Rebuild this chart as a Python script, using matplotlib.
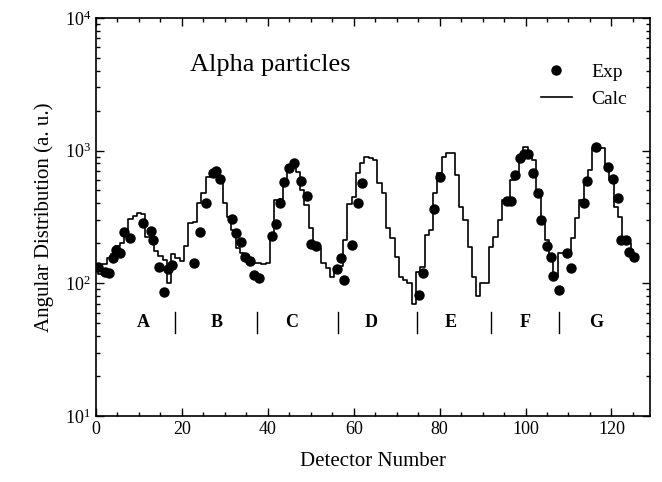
import matplotlib
matplotlib.use("Agg")
import matplotlib.pyplot as plt
import numpy as np

# measured points (detector number, counts)
exp_x = [0.5, 2, 3, 4, 4.7, 5.6, 6.6, 8, 10.9, 12.8, 13.3, 14.7, 15.9, 16.8, 17.8,
         22.8, 24.2, 25.6, 27.3, 27.9, 28.9, 31.6, 32.5, 33.7, 34.8, 35.9, 36.9, 38,
         40.9, 41.9, 42.9, 43.8, 45, 46, 47.8, 49.1, 50, 51.2,
         56, 57, 57.8, 59.6, 61, 62,
         75.1, 76.1, 78.8, 80.1,
         95.6, 96.7, 97.5, 98.7, 99.6, 100.5, 101.8, 103, 103.7, 104.9, 106, 106.4, 107.7,
         109.7, 110.7, 113.5, 114.3, 116.3, 119.2, 120.4, 121.5, 122.2, 123.3, 124, 125.2]
exp_y = [132, 122, 120, 154, 178, 168, 245, 220, 283, 249, 212, 132, 86, 128, 137,
         142, 245, 405, 682, 700, 608, 304, 240, 206, 159, 146, 116, 109,
         227, 279, 405, 577, 736, 812, 594, 455, 198, 191,
         127, 154, 106, 194, 405, 574,
         82, 119, 362, 630,
         420, 420, 650, 877, 950, 935, 682, 477, 300, 191, 157, 114, 89,
         168, 130, 405, 594, 1055, 757, 608, 441, 212, 212, 173, 158]

# calculated distribution, one value per detector 0..125
calc_y = [130, 118, 140, 155, 165, 190, 200, 250, 305, 320,
          340, 335, 225, 215, 175, 160, 150, 100, 165, 155,
          148, 190, 285, 290, 400, 477, 630, 640, 635, 625,
          400, 318, 251, 183, 170, 159, 155, 142, 142, 140,
          142, 223, 425, 430, 600, 757, 795, 694, 500, 390,
          262, 189, 185, 142, 130, 112, 128, 135, 212, 398,
          450, 675, 803, 900, 880, 850, 567, 477, 260, 218,
          159, 112, 106, 100, 70, 122, 133, 231, 251, 477,
          675, 900, 955, 955, 655, 378, 300, 189, 112, 80,
          100, 100, 189, 223, 300, 425, 430, 600, 694, 927,
          1070, 930, 850, 500, 300, 212, 159, 112, 170, 170,
          175, 218, 312, 425, 600, 714, 1040, 1040, 1040, 770,
          600, 378, 318, 200, 200, 178]
calc_x = np.arange(len(calc_y))

groups = ["A", "B", "C", "D", "E", "F", "G"]
group_x = [11, 28, 45.5, 64, 82.5, 100, 116.5]
separators = [18.4, 37.4, 56.3, 74.8, 92, 107.8]

plt.rcParams['font.family'] = ['Liberation Serif', 'DejaVu Serif']
plt.rcParams['mathtext.fontset'] = 'stix'

fig = plt.figure(figsize=(6.62, 4.82), dpi=100)
ax = fig.add_axes([0.145, 0.137, 0.837, 0.826])

ax.plot(calc_x, calc_y, drawstyle='steps-mid', color='k', lw=1.2, label='Calc')
ax.plot(exp_x, exp_y, 'o', color='k', ms=6.5, label='Exp')

ax.set_yscale('log')
ax.set_xlim(0, 129)
ax.set_ylim(10, 1e4)
ax.set_xticks([0, 20, 40, 60, 80, 100, 120])
ax.set_xticks(np.arange(0, 129, 5), minor=True)
ax.tick_params(which='both', direction='in', top=True, right=True, labelsize=13)
ax.tick_params(which='major', length=6, width=1)
ax.tick_params(which='minor', length=3, width=1)
for s in ax.spines.values():
    s.set_linewidth(1.2)

ax.set_xlabel("Detector Number", fontsize=15, labelpad=10)
ax.set_ylabel("Angular Distribution (a. u.)", fontsize=15, labelpad=8)

for g, gx in zip(groups, group_x):
    ax.text(gx, 51, g, ha='center', va='center', fontsize=13, fontweight='bold')
for sx in separators:
    ax.plot([sx, sx], [42, 61], color='k', lw=1)

ax.text(22, 4400, "Alpha particles", fontsize=19, va='center')

h, l = ax.get_legend_handles_labels()
ax.legend([h[1], h[0]], [l[1], l[0]], loc='upper right', bbox_to_anchor=(0.99, 0.93),
          frameon=False, fontsize=14, handlelength=1.6, labelspacing=0.5, handletextpad=1.0)

fig.savefig("out.png", dpi=100)
